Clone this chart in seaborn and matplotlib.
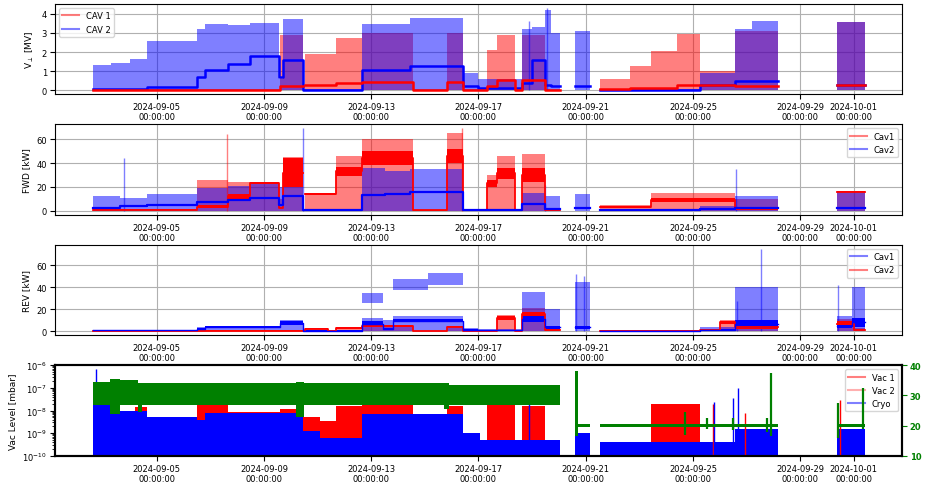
import numpy as np
import pandas as pd
import matplotlib
matplotlib.use("Agg")
import matplotlib.pyplot as plt
import matplotlib.dates as mdates
from matplotlib.lines import Line2D
import seaborn as sns

nan = np.nan
T0 = pd.Timestamp("2024-09-01")
tick_days = ["2024-09-05", "2024-09-09", "2024-09-13", "2024-09-17",
             "2024-09-21", "2024-09-25", "2024-09-29", "2024-10-01"]

# all times are days since 2024-09-01; each value holds from t[i] to t[i+1]

# --- V_perp [MV]
cav1_v_t = [1.61, 8.60, 9.45, 9.52, 10.68, 11.65, 13.55, 14.82, 15.42, 16.31, 16.69, 17.36,
            17.62, 18.48, 19.04, 20.53, 21.65, 22.43, 23.40, 24.26, 25.57, 27.17, 29.37, 30.42]
cav1_v_top = [0.05, 2.9, nan, 1.9, 2.75, 3.0, 0.05, 3.0, 0.05, 2.1, 2.9, 0.05,
              2.9, 0.05, nan, 0.6, 1.25, 2.05, 2.95, 1.0, 3.1, nan, 3.55]
cav1_v_mid = [0.03, 0.2, nan, 0.28, 0.4, 0.45, 0.03, 0.45, 0.03, 0.2, 0.55, 0.03,
              0.55, 0.03, nan, 0.05, 0.1, 0.1, 0.3, 0.3, 0.2, nan, 0.3]

cav2_v_t = [1.61, 2.3, 3.0, 3.63, 5.49, 5.79, 6.65, 7.47, 8.55, 8.70, 9.45, 11.65, 13.44, 15.42,
            16.0, 17.62, 18.0, 18.48, 18.7, 19.04, 19.6, 20.16, 20.53, 24.26, 25.57, 26.2, 27.17,
            29.37, 30.42]
cav2_v_top = [1.3, 1.45, 1.65, 2.6, 3.2, 3.45, 3.4, 3.5, 0.6, 3.7, 0.05, 3.45, 3.8, 0.9,
              0.6, 3.2, 3.3, 4.2, 3.0, nan, 3.1, nan, 0.05, 0.9, 3.2, 3.6, nan, 3.55]
cav2_v_mid = [0.05, 0.05, 0.05, 0.15, 0.7, 1.05, 1.4, 1.8, 0.7, 1.6, 0.02, 1.05, 1.25, 0.2,
              0.1, 0.4, 1.6, 0.3, 0.2, nan, 0.25, nan, 0.02, 0.3, 0.5, 0.5, nan, 0.3]
cav2_v_spike_t = [17.9, 18.55]
cav2_v_spike = [3.6, 4.3]

# --- FWD [kW]
cav1_fwd_t = [1.61, 5.49, 6.65, 7.47, 8.55, 8.70, 9.45, 9.52, 10.68, 11.65, 13.55, 14.82, 15.42,
              16.31, 16.69, 17.36, 17.62, 18.48, 19.04, 20.53, 22.43, 25.57, 27.17, 29.37, 30.42]
cav1_fwd_top = [1.5, 26, 24, 24, 10, 45, nan, 14, 46, 60, 0.5, 65, 0.5,
                30, 46, 0.5, 48, 1, nan, 4.5, 15, 10, nan, 17]
cav1_fwd_lo = [0.5, 2, 10, 22.5, 2, 20, nan, 13, 29, 38, 0, 40, 0,
               20, 27, 0, 24, 0, nan, 2.5, 7, 1, nan, 15.5]
cav1_fwd_hi = [1.5, 5, 14, 24.5, 3, 44, nan, 14.5, 37, 50, 0.5, 52, 0.5,
               26, 36, 0.5, 36, 1, nan, 4, 11, 3, nan, 16.5]
cav1_fwd_spike_t = [6.62, 15.4]
cav1_fwd_spike = [64, 69]

cav2_fwd_t = [1.61, 2.62, 3.63, 5.49, 6.65, 7.47, 8.55, 8.70, 9.45, 11.65, 12.5, 13.44, 15.42,
              17.62, 18.48, 19.04, 19.6, 20.16, 20.53, 24.26, 25.57, 27.17, 29.37, 30.42]
cav2_fwd_top = [12, 11, 14, 19, 21, 23, 20, 24, 0.5, 36, 33, 35, 1.5,
                15, 12, nan, 14, nan, 1.5, 4, 12, nan, 16]
cav2_fwd_mid = [2.5, 4, 5, 7, 9, 11, 5, 12, 0.3, 13, 14, 16, 0.8,
                5.5, 1.5, nan, 2, nan, 0.8, 1.5, 2, nan, 2.5]
cav2_fwd_spike_t = [2.77, 9.46, 18.5, 25.6]
cav2_fwd_spike = [44, 69, 22, 35]

# --- REV [kW]
cav1_rev_t = [1.61, 5.49, 5.79, 8.60, 9.45, 11.65, 12.45, 12.8, 15.42, 16.0, 17.62, 18.48, 19.04,
              19.6, 20.16, 20.53, 24.26, 25.57, 27.17, 29.37, 29.95, 30.42]
cav1_rev_top = [1.5, 3.5, 5, 10.5, 1, 12, 10, 14, 3, 2, 36, 20, nan,
                45, nan, 1, 4, 40, nan, 14, 40]
cav1_rev_lo = [0.5, 2, 3, 6, 0.3, 5, 1, 8, 1, 0.5, 8, 2, nan,
               2, nan, 0.3, 1, 3, nan, 3, 4]
cav1_rev_hi = [1.2, 3, 4.5, 9, 0.8, 9, 3, 11, 2, 1, 14, 5, nan,
               5, nan, 0.8, 2, 10, nan, 6, 12]
cav1_rev_up_t = [11.65, 12.45, 12.8, 14.1, 15.42]
cav1_rev_up_lo = [26, nan, 38, 42]
cav1_rev_up_hi = [35, nan, 48, 53]
cav1_rev_spike_t = [19.65, 19.95, 25.65, 26.55, 29.4]
cav1_rev_spike = [52, 50, 28, 75, 42]

cav2_rev_t = [1.61, 5.49, 9.52, 10.4, 10.68, 11.65, 13.55, 14.82, 15.42, 16.69, 17.36, 17.62,
              18.48, 19.04, 20.53, 24.26, 25.0, 25.57, 27.17, 29.37, 30.0, 30.42]
cav2_rev_top = [0.3, 0.8, 2.5, 0.5, 3, 5.5, 0.5, 5, 0.5, 15, 0.5, 21,
                5, nan, 0.5, 2, 10, 10, nan, 11, 3]
cav2_rev_lo = [0, 0.3, 2, 0, 2.5, 3.5, 0, 3.5, 0, 10, 0, 13,
               0.5, nan, 0, 0.5, 7, 2, nan, 5, 1]
cav2_rev_hi = [0.3, 0.8, 3, 0.5, 3.5, 5.5, 0.5, 5, 0.5, 14, 0.5, 18,
               2, nan, 0.5, 1.5, 9, 5, nan, 9, 2]

# --- vacuum [mbar] and cryo (right axis)
cryo_t = [1.61, 2.3, 3.63, 5.49, 5.79, 8.60, 9.45, 10.1, 11.65, 15.42, 16.05, 19.04, 19.6,
          20.16, 20.53, 25.57, 27.17, 29.37, 30.42]
cryo_top = [1.9e-8, 1.0e-8, 5e-9, 4e-9, 8e-9, 7.5e-9, 1.2e-9, 6e-10, 7e-9, 1e-9, 5e-10, nan,
            1e-9, nan, 4e-10, 1.5e-9, nan, 1.6e-9]
cryo_spike_t = [1.72, 17.9, 24.8, 25.5, 25.68]
cryo_spike = [7e-7, 3e-8, 2.5e-8, 3.6e-8, 1e-7]

vac1_t = [3.2, 3.63, 5.49, 5.79, 6.65, 8.60, 9.45, 10.1, 10.68, 11.65, 13.55, 14.82, 15.42,
          16.31, 17.36, 17.62, 18.48, 22.43, 24.26]
vac1_top = [1.5e-8, nan, 2.5e-8, 2e-8, 9e-9, 1.2e-8, 5e-9, 3.5e-9, 1.6e-8, 1.8e-8, nan, 1.6e-8,
            nan, 1.8e-8, nan, 1.6e-8, nan, 2e-8]
vac1_spike_t = [24.74, 25.94, 29.48]
vac1_spike = [2e-8, 8e-9, 3e-8]

green_t = [1.61, 2.25, 2.62, 3.3, 3.45, 9.2, 9.5, 14.7, 14.9, 19.04, 19.6, 19.7, 20.16, 20.53,
           27.17, 29.37, 30.42]
green_lo = [27, 24, 27, 24.5, 27, 23, 27, 25.5, 27, nan, 16.5, 19.5, nan, 19.4, nan, 19.4]
green_hi = [34.5, 35.5, 35, 34, 34, 34.5, 34, 34, 33.5, nan, 38, 20.7, nan, 20.6, nan, 20.6]
green_spike_t = [23.70, 24.51, 25.49, 26.75, 26.91, 29.42, 30.35]
green_spike_lo = [17, 19, 18.5, 18, 16.5, 16, 19]
green_spike_hi = [24.5, 22.5, 22.5, 22.5, 37.5, 27.5, 32.5]


def dates(days):
    return T0 + pd.to_timedelta(np.asarray(days, float), unit="D")


def steps(t, v):
    t = np.asarray(t, float)
    v = np.asarray(v, float)
    return np.repeat(t, 2)[1:-1], np.repeat(v, 2)


def band(ax, t, lo, hi, color, alpha, z=1):
    x, ylo = steps(t, lo)
    _, yhi = steps(t, hi)
    ax.fill_between(dates(x), ylo, yhi, color=color, alpha=alpha, lw=0, zorder=z)


def core(ax, t, lo, hi, color, lw=1.3):
    band(ax, t, lo, hi, color, 1.0, z=2)
    x, ylo = steps(t, lo)
    _, yhi = steps(t, hi)
    mid = (ylo + yhi) / 2
    df = pd.DataFrame({"t": dates(x), "v": mid, "run": np.cumsum(np.isnan(mid))}).dropna()
    sns.lineplot(data=df, x="t", y="v", units="run", estimator=None, sort=False,
                 color=color, lw=lw, ax=ax, legend=False, zorder=3)


def spikes(ax, t, lo, hi, color, alpha, lw=1.0):
    ax.vlines(dates(t), lo, hi, color=color, alpha=alpha, lw=lw, zorder=2)


fig, axes = plt.subplots(4, 1, figsize=(9.27, 4.85), dpi=100)
fig.subplots_adjust(left=0.059, right=0.973, top=0.99, bottom=0.058, hspace=0.33)
ax1, ax2, ax3, ax4 = axes

# panel 1
band(ax1, cav1_v_t, np.zeros(len(cav1_v_top)), cav1_v_top, "red", 0.5)
band(ax1, cav2_v_t, np.zeros(len(cav2_v_top)), cav2_v_top, "blue", 0.5)
spikes(ax1, cav2_v_spike_t, 0, cav2_v_spike, "blue", 0.5)
core(ax1, cav2_v_t, cav2_v_mid, cav2_v_mid, "blue", 1.8)
core(ax1, cav1_v_t, cav1_v_mid, cav1_v_mid, "red", 1.8)
ax1.set_ylabel(r"V$_\perp$ [MV]")
ax1.legend(handles=[Line2D([], [], color="red", alpha=0.5, label="CAV 1"),
                    Line2D([], [], color="blue", alpha=0.5, label="CAV 2")],
           loc="upper left", fontsize=6)

# panel 2
band(ax2, cav1_fwd_t, np.zeros(len(cav1_fwd_top)), cav1_fwd_top, "red", 0.5)
band(ax2, cav2_fwd_t, np.zeros(len(cav2_fwd_top)), cav2_fwd_top, "blue", 0.5)
spikes(ax2, cav1_fwd_spike_t, 0, cav1_fwd_spike, "red", 0.5)
spikes(ax2, cav2_fwd_spike_t, 0, cav2_fwd_spike, "blue", 0.5)
core(ax2, cav1_fwd_t, cav1_fwd_lo, cav1_fwd_hi, "red")
core(ax2, cav2_fwd_t, cav2_fwd_mid, cav2_fwd_mid, "blue", 1.6)
ax2.set_ylabel("FWD [kW]")
ax2.legend(handles=[Line2D([], [], color="red", alpha=0.5, label="Cav1"),
                    Line2D([], [], color="blue", alpha=0.5, label="Cav2")],
           loc="upper right", fontsize=6)

# panel 3
band(ax3, cav2_rev_t, np.zeros(len(cav2_rev_top)), cav2_rev_top, "red", 0.5)
band(ax3, cav1_rev_t, np.zeros(len(cav1_rev_top)), cav1_rev_top, "blue", 0.5)
band(ax3, cav1_rev_up_t, cav1_rev_up_lo, cav1_rev_up_hi, "blue", 0.5)
spikes(ax3, cav1_rev_spike_t, 0, cav1_rev_spike, "blue", 0.5)
core(ax3, cav2_rev_t, cav2_rev_lo, cav2_rev_hi, "red")
core(ax3, cav1_rev_t, cav1_rev_lo, cav1_rev_hi, "blue", 1.0)
ax3.set_ylabel("REV [kW]")
ax3.legend(handles=[Line2D([], [], color="blue", alpha=0.5, label="Cav1"),
                    Line2D([], [], color="red", alpha=0.5, label="Cav2")],
           loc="upper right", fontsize=6)

# panel 4
ax4.set_yscale("log")
band(ax4, vac1_t, np.full(len(vac1_top), 1e-11), vac1_top, "red", 1.0)
spikes(ax4, vac1_spike_t, 1e-11, vac1_spike, "red", 1.0)
band(ax4, cryo_t, np.full(len(cryo_top), 1e-11), cryo_top, "blue", 1.0, z=1.5)
spikes(ax4, cryo_spike_t, 1e-11, cryo_spike, "blue", 1.0)
ax4.set_ylim(1e-10, 1e-6)
ax4.set_ylabel("Vac Level [mbar]")
ax4.legend(handles=[Line2D([], [], color="red", alpha=0.5, label="Vac 1"),
                    Line2D([], [], color="#ff6060", alpha=0.5, label="Vac 2"),
                    Line2D([], [], color="blue", alpha=0.5, label="Cryo")],
           loc="upper right", fontsize=6)
axg = ax4.twinx()
band(axg, green_t, green_lo, green_hi, "green", 1.0)
spikes(axg, green_spike_t, green_spike_lo, green_spike_hi, "green", 1.0, lw=1.6)
axg.set_ylim(10, 40)
axg.set_yticks([10, 20, 30, 40])
axg.tick_params(axis="y", colors="green", labelsize=6, pad=2)
for lab in axg.get_yticklabels():
    lab.set_fontweight("bold")
axg.set_ylabel("")
for a in (ax4, axg):
    for s in a.spines.values():
        s.set_linewidth(1.5)
        s.set_color("black")

xlim = (dates([0.19])[0], dates([31.8])[0])
for ax in axes:
    ax.set_xlim(*xlim)
    ax.set_xticks(pd.to_datetime(tick_days))
    ax.xaxis.set_major_formatter(mdates.DateFormatter("%Y-%m-%d\n%H:%M:%S"))
    ax.tick_params(labelsize=6, pad=2)
    ax.set_xlabel("")
    ax.yaxis.label.set_size(6.5)
for ax in (ax1, ax2, ax3):
    ax.set_axisbelow(True)
    ax.grid(True, color="#b0b0b0", lw=0.8)
axg.set_xlim(*xlim)

fig.savefig("out.png", dpi=100)
